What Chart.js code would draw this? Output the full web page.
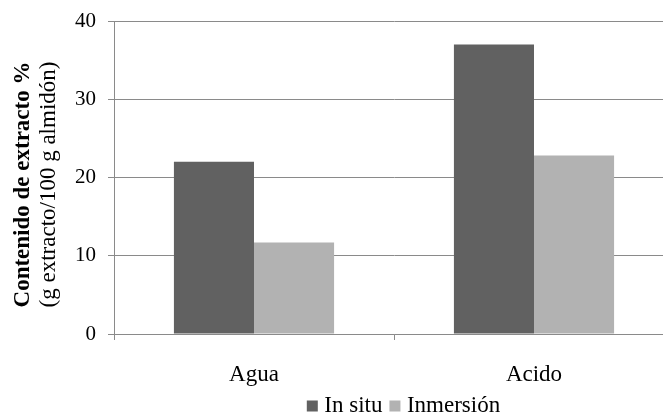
<!DOCTYPE html>
<html>
<head>
<meta charset="utf-8">
<script src="https://cdn.jsdelivr.net/npm/chart.js@4/dist/chart.umd.min.js"></script>
<style>
  html, body { margin: 0; padding: 0; background: #fff; overflow: hidden; width: 663px; height: 418px; }
  #wrap { position: absolute; left: 0; top: 0; width: 680px; height: 418px; }
</style>
</head>
<body>
<div id="wrap"><canvas id="c" width="680" height="418"></canvas></div>
<script>
// Extract content per treatment (g extracto / 100 g almidón)
const categories = ['Agua', 'Acido'];
const inSitu = [22.0, 37.0];
const inmersion = [11.7, 22.8];
const seriesNames = ['In situ', 'Inmersión'];
const yTitleLines = ['Contenido de extracto %', '(g extracto/100 g almidón)'];

const SERIF = '"Liberation Serif", "Times New Roman", serif';
const GRID = '#8a8a8a';

// Legend box starts a little higher (keeping its bottom at the canvas edge)
// and sits further right than the default centred spot
const legendPlacement = {
  id: 'legendPlacement',
  afterLayout(chart) {
    const lg = chart.legend;
    lg.top -= 11.5;
    lg.bottom = chart.height;
    lg.height = lg.bottom - lg.top;
    lg.left += 69; lg.right += 69;
  }
};

// Two-line vertical axis title: bold heading, regular units line
const yTitle = {
  id: 'yTitle',
  afterDraw(chart) {
    const ctx = chart.ctx;
    const area = chart.chartArea;
    ctx.save();
    ctx.fillStyle = '#000';
    ctx.textAlign = 'center';
    ctx.textBaseline = 'middle';
    ctx.translate(23, (area.top + area.bottom) / 2 + 7);
    ctx.rotate(-Math.PI / 2);
    ctx.font = 'bold 23px ' + SERIF;
    ctx.fillText(yTitleLines[0], 0, 0);
    ctx.font = '23px ' + SERIF;
    ctx.fillText(yTitleLines[1], 0, 26);
    ctx.restore();
  }
};

// Small square swatches: a thick stroke around a tiny rect keeps the text close to the swatch
function legendItems(chart) {
  const items = Chart.defaults.plugins.legend.labels.generateLabels(chart);
  items.forEach(it => { it.lineWidth = 10; it.strokeStyle = it.fillStyle; it.lineJoin = 'miter'; });
  return items;
}

new Chart(document.getElementById('c'), {
  type: 'bar',
  data: {
    labels: categories,
    datasets: [
      { label: seriesNames[0], data: inSitu, backgroundColor: '#616161', borderWidth: 0 },
      { label: seriesNames[1], data: inmersion, backgroundColor: '#b2b2b2', borderWidth: 0 }
    ]
  },
  options: {
    responsive: false,
    animation: false,
    devicePixelRatio: 1,
    layout: { padding: { top: 21, right: 6, bottom: 0, left: 0 } },
    datasets: { bar: { categoryPercentage: 0.572, barPercentage: 1.0 } },
    plugins: {
      tooltip: { enabled: false },
      legend: {
        position: 'bottom',
        maxHeight: 24,
        labels: {
          boxWidth: 1, boxHeight: 1, padding: 12,
          color: '#000',
          font: { family: SERIF, size: 23 },
          generateLabels: legendItems
        }
      }
    },
    scales: {
      x: {
        offset: true,
        grid: { offset: true, drawOnChartArea: false, drawTicks: true, tickLength: 6, color: GRID, lineWidth: 1 },
        border: { display: true, color: GRID, width: 1 },
        ticks: { color: '#000', font: { family: SERIF, size: 23 }, padding: 21, maxRotation: 0 },
        afterFit(s) { s.height = 60; s.paddingLeft = 0; s.paddingRight = 0; }
      },
      y: {
        min: 0, max: 40,
        grid: { color: GRID, lineWidth: 1, tickLength: 6 },
        border: { display: true, color: GRID, width: 1 },
        ticks: { stepSize: 10, color: '#000', font: { family: SERIF, size: 21 }, padding: 12 },
        afterFit(s) { s.width = 114; s.paddingTop = 0; s.paddingBottom = 0; }
      }
    }
  },
  plugins: [legendPlacement, yTitle]
});
</script>
</body>
</html>
